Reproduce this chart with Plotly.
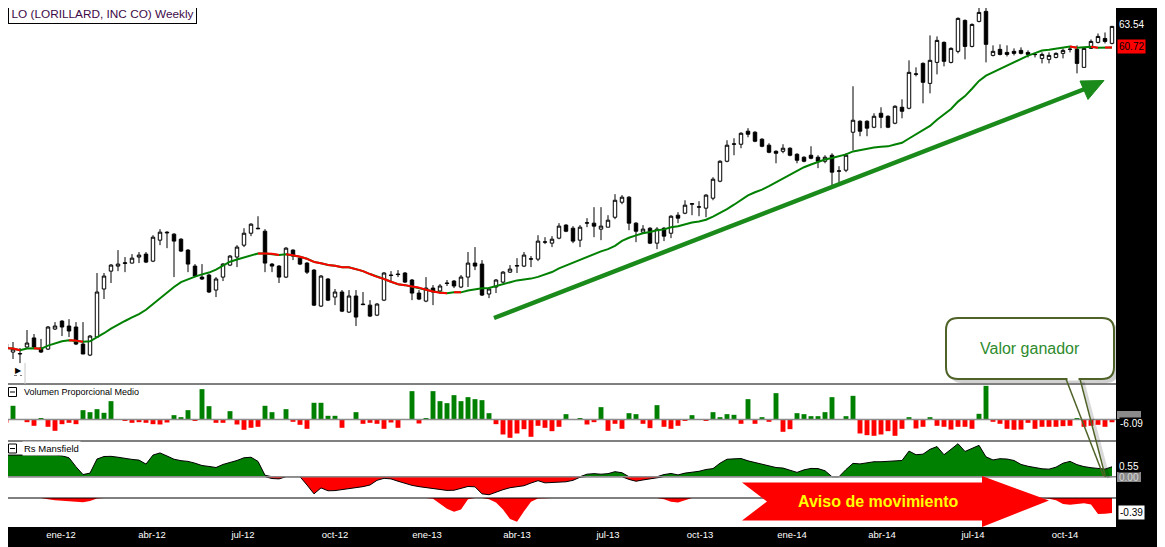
import numpy as np
import pandas as pd
import plotly.graph_objects as go
from plotly.subplots import make_subplots

# la página tiene 8 px de margen: la figura se dibuja desplazada
MARGEN = 8
ANCHO, ALTO = 1165 - MARGEN, 547 - MARGEN

# primera vela semanal (lunes)
primera_semana = "2011-11-07"

# velas semanales LO
apertura = [32.98, 32.44, 32.31, 32.78, 33.40, 32.71, 32.64, 34.02, 34.58, 34.23,
            34.16, 32.98, 32.24, 33.46, 36.95, 38.34, 38.74, 38.95, 38.98, 39.47,
            39.71, 39.14, 40.87, 41.55, 41.38, 40.95, 40.04, 38.74, 37.87, 38.03,
            36.87, 37.87, 38.82, 39.47, 40.45, 41.46, 41.89, 41.63, 38.90, 38.74,
            37.87, 40.04, 39.38, 38.98, 38.42, 35.67, 37.72, 36.34, 36.72, 35.23,
            36.42, 35.82, 35.74, 35.01, 36.11, 38.03, 38.11, 38.19, 37.64, 36.64,
            36.04, 37.02, 36.80, 37.41, 37.56, 37.10, 37.87, 38.98, 38.90, 36.57,
            37.10, 37.48, 38.26, 38.74, 38.74, 39.30, 39.30, 40.70, 40.62, 41.04,
            42.16, 41.89, 40.87, 42.33, 42.33, 41.81, 41.98, 42.85, 44.20, 44.66,
            42.33, 41.55, 41.89, 40.62, 41.89, 41.46, 43.03, 43.21, 44.02, 43.75,
            43.66, 44.57, 46.16, 48.10, 49.82, 49.82, 51.18, 51.07, 50.34, 49.72,
            49.10, 49.10, 49.41, 48.80, 48.50, 48.70, 48.50, 48.10, 48.70, 47.12,
            47.22, 51.07, 52.24, 52.24, 51.60, 53.11, 52.78, 52.03, 53.77, 53.66,
            57.55, 58.87, 56.49, 58.99, 61.48, 58.99, 60.35, 64.33, 60.97, 64.20,
            65.54, 59.85, 60.60, 60.22, 60.35, 60.47, 60.22, 59.97, 59.48, 59.36,
            59.60, 60.10, 60.60, 60.60, 58.39, 60.72, 61.48, 61.98, 61.35]
maximo = [33.12, 33.12, 32.71, 33.95, 33.67, 33.33, 34.23, 34.51, 34.65, 34.72,
          34.51, 34.51, 33.60, 38.19, 38.19, 38.90, 40.04, 39.47, 39.71, 39.88,
          39.88, 41.29, 41.81, 41.63, 41.46, 41.04, 40.12, 38.90, 38.90, 38.11,
          37.87, 38.98, 39.63, 40.45, 41.89, 42.33, 42.94, 41.81, 38.98, 38.82,
          40.29, 40.10, 39.47, 39.06, 38.50, 38.03, 37.79, 36.95, 36.87, 36.87,
          36.87, 36.72, 36.11, 35.89, 38.26, 38.34, 38.42, 38.26, 37.72, 36.87,
          37.87, 37.25, 37.33, 37.64, 37.64, 38.03, 39.88, 40.29, 39.22, 37.10,
          37.72, 38.34, 38.82, 39.38, 39.88, 39.55, 41.29, 41.12, 41.21, 42.33,
          42.24, 42.07, 42.16, 42.77, 43.75, 43.75, 43.03, 44.94, 44.85, 44.76,
          42.42, 42.16, 41.98, 41.98, 41.98, 43.03, 43.30, 44.38, 44.11, 44.29,
          44.94, 46.54, 48.20, 50.23, 50.44, 51.07, 51.50, 51.18, 50.44, 49.92,
          49.20, 49.82, 49.51, 48.90, 48.60, 49.61, 48.70, 48.70, 48.90, 47.61,
          48.90, 56.15, 52.35, 52.35, 53.11, 53.77, 52.89, 53.99, 54.66, 59.24,
          58.39, 58.99, 62.37, 62.24, 61.60, 60.85, 64.73, 64.46, 63.93, 66.62,
          66.62, 61.10, 61.23, 61.10, 60.72, 60.85, 60.47, 60.22, 60.22, 60.22,
          60.22, 60.72, 60.97, 61.10, 60.85, 61.85, 62.62, 62.75, 63.60]
minimo = [32.58, 31.98, 31.71, 32.71, 32.71, 32.38, 32.58, 33.95, 33.53, 33.46,
          32.91, 32.31, 32.17, 33.40, 36.19, 37.41, 38.34, 38.26, 38.95, 38.98,
          38.98, 39.06, 40.45, 40.20, 37.87, 39.88, 38.26, 37.87, 37.64, 36.64,
          36.34, 37.56, 38.74, 38.66, 40.29, 41.21, 41.81, 38.26, 38.26, 37.41,
          37.79, 39.22, 38.82, 38.11, 35.67, 35.60, 36.04, 35.74, 35.23, 35.16,
          34.23, 35.74, 34.87, 34.94, 36.04, 37.48, 37.87, 37.41, 36.11, 36.11,
          35.96, 35.74, 36.57, 37.18, 37.02, 37.02, 37.10, 38.42, 36.42, 36.26,
          36.64, 37.41, 38.19, 38.19, 38.66, 38.66, 39.14, 40.54, 40.29, 40.95,
          41.55, 40.62, 40.29, 41.98, 41.12, 40.87, 41.98, 42.68, 44.02, 41.72,
          40.70, 41.46, 40.54, 40.12, 40.79, 41.04, 42.33, 43.12, 43.03, 42.94,
          42.85, 44.38, 46.06, 48.00, 48.70, 49.41, 50.54, 50.03, 49.51, 48.90,
          47.90, 48.90, 48.60, 47.90, 48.00, 48.30, 47.42, 47.90, 45.69, 45.97,
          47.03, 49.20, 50.65, 50.65, 51.50, 51.50, 51.50, 51.92, 52.56, 53.55,
          57.31, 54.21, 55.34, 57.55, 58.51, 58.87, 60.10, 59.36, 60.85, 64.07,
          58.99, 59.72, 59.85, 59.72, 59.85, 59.97, 59.60, 59.60, 58.87, 58.87,
          59.48, 59.48, 60.22, 57.67, 58.39, 60.72, 61.35, 61.35, 61.23]
cierre = [32.71, 32.64, 32.34, 33.05, 32.78, 32.44, 34.16, 34.23, 34.16, 33.88,
          32.98, 32.31, 33.53, 36.72, 37.95, 38.82, 38.90, 39.00, 39.38, 39.63,
          39.06, 41.12, 41.55, 41.50, 40.79, 39.96, 38.90, 37.95, 37.72, 36.72,
          37.72, 38.90, 39.55, 40.29, 41.46, 42.24, 41.85, 38.98, 38.74, 37.87,
          40.20, 39.55, 38.90, 38.26, 35.74, 37.95, 36.11, 36.72, 35.30, 36.42,
          34.87, 35.78, 34.94, 35.82, 38.19, 38.00, 38.07, 37.48, 36.64, 36.19,
          37.02, 36.72, 37.18, 37.38, 37.18, 37.87, 38.98, 38.74, 36.49, 36.95,
          37.64, 38.26, 38.50, 38.78, 39.63, 39.32, 40.79, 40.72, 40.95, 42.07,
          41.63, 40.79, 41.98, 42.36, 42.07, 42.07, 42.59, 44.38, 44.66, 42.33,
          41.63, 41.81, 40.62, 41.81, 41.21, 42.94, 42.77, 43.93, 44.06, 43.78,
          44.85, 46.35, 48.10, 49.72, 49.85, 50.96, 50.86, 50.13, 49.61, 49.00,
          48.90, 49.41, 48.70, 48.20, 48.10, 48.40, 48.10, 48.50, 47.03, 47.15,
          48.70, 52.35, 51.18, 51.50, 52.78, 52.67, 51.60, 53.88, 53.33, 57.79,
          57.60, 56.61, 59.24, 61.73, 59.12, 60.72, 64.60, 60.97, 63.80, 65.40,
          61.23, 60.35, 59.97, 59.97, 60.10, 60.10, 59.97, 59.95, 59.97, 59.85,
          60.10, 60.47, 60.62, 58.87, 60.72, 61.60, 62.24, 61.60, 63.54]

# Volumen Proporcional Medio (%)
volumen = [-7.3, 30.1, 0.8, -5.9, -13.9, 2.9, -16.1, -24.9, -10.3, -7.3,
           -10.3, 20.5, 16.1, 22.7, 14.7, 40.3, -0.5, -2.9, -7.3, -5.9,
           -7.3, -10.3, -11.0, -6.6, 9.5, 5.1, 20.5, -2.2, 66.7, 29.3,
           -7.3, -7.3, 18.3, -11.0, -22.7, -18.3, -16.1, 30.1, 16.1, 0.4,
           22.7, -5.1, -11.7, -20.5, 36.7, 36.7, 8.1, 8.1, -18.3, 0.3,
           16.1, -9.5, -7.3, -9.5, -20.5, -6.6, -18.3, 0.4, 62.3, -8.8,
           2.9, 62.3, 40.3, 35.9, 53.5, 40.3, 49.1, 44.7, 42.5, 13.9,
           -10.3, -33.0, -40.3, -30.8, -21.3, -38.1, -13.9, -18.3, -25.7, -16.1,
           11.7, -0.4, 2.9, -11.0, -5.9, 27.1, -24.9, -9.5, -20.5, 13.9,
           11.7, -9.5, -19.1, 31.5, -16.1, -20.5, -13.9, -2.9, 9.5, 0.3,
           -2.2, 16.1, 5.1, 11.7, 10.3, -9.5, 44.7, -9.5, 5.1, -5.1,
           57.9, -27.1, -21.3, 13.9, 11.7, 7.3, 7.3, 16.1, 49.1, 0.4,
           7.3, 52.0, -30.8, -34.5, -35.9, -33.0, -25.7, -35.9, -20.5, 5.1,
           -19.8, -16.1, 5.1, -13.9, -16.1, -22.0, -16.1, -16.1, -20.5, 12.5,
           74.0, -5.1, -9.5, -20.5, -22.7, -22.0, -7.3, -20.5, -16.1, -16.1,
           -16.1, -14.7, -13.9, 2.9, -16.1, -13.9, -11.7, -16.1, -6.09]

# Rs Mansfield
rs_mansfield = [1.20, 1.21, 1.22, 1.20, 1.19, 1.20, 1.20, 1.19, 1.16, 1.05,
                0.55, 0.12, 0.20, 0.98, 1.12, 1.13, 1.08, 1.00, 0.96, 0.92,
                0.70, 1.20, 1.32, 1.15, 0.97, 0.89, 0.85, 0.75, 0.62, 0.57,
                0.51, 0.68, 0.78, 0.90, 1.05, 1.08, 0.85, 0.08, -0.10, -0.12,
                0.02, 0.00, 0.00, -0.46, -0.95, -0.62, -0.78, -0.77, -0.72, -0.66,
                -0.62, -0.55, -0.46, -0.20, -0.09, -0.12, -0.25, -0.37, -0.48, -0.55,
                -0.61, -0.66, -0.70, -0.76, -0.75, -0.64, -0.54, -0.56, -0.95, -1.00,
                -0.85, -0.72, -0.61, -0.57, -0.50, -0.35, -0.22, -0.34, -0.32, -0.28,
                -0.28, -0.20, -0.03, 0.14, 0.17, 0.14, 0.17, 0.28, 0.22, -0.15,
                -0.25, -0.18, -0.12, -0.03, 0.12, 0.18, 0.10, 0.20, 0.25, 0.30,
                0.40, 0.45, 0.75, 0.97, 0.99, 1.01, 0.88, 0.78, 0.70, 0.58,
                0.51, 0.48, 0.35, 0.24, 0.38, 0.46, 0.45, 0.33, 0.00, -0.03,
                0.40, 0.74, 0.71, 0.78, 0.83, 0.83, 0.86, 0.87, 0.90, 1.42,
                1.22, 1.25, 1.52, 1.67, 1.22, 1.52, 1.83, 1.40, 1.55, 1.74,
                1.10, 0.93, 1.00, 0.98, 0.90, 0.68, 0.58, 0.50, 0.44, 0.42,
                0.53, 0.75, 0.85, 0.67, 0.56, 0.50, 0.47, 0.42, 0.55]

# panel inferior (solo la parte negativa)
inferior = [0, 0, 0, 0, 0, 0, -0.03, -0.06, -0.07, -0.08,
            -0.10, -0.11, -0.08, -0.01, 0, 0, 0, 0, 0, 0,
            0, 0, 0, 0, 0, 0, 0, 0, 0, 0,
            0, 0, 0, 0, 0, 0, 0, 0, 0, 0,
            0, 0, 0, 0, 0, 0, 0, 0, 0, 0,
            0, 0, 0, 0, 0, 0, 0, 0, 0, 0,
            0, -0.02, -0.14, -0.28, -0.36, -0.30, -0.03, 0, 0, -0.03,
            -0.12, -0.30, -0.55, -0.62, -0.35, -0.10, -0.01, 0, 0, 0,
            0, 0, 0, 0, 0, 0, 0, 0, 0, 0,
            0, 0, 0, 0, -0.03, -0.10, -0.12, -0.06, 0, 0,
            0, 0, 0, 0, 0, 0, 0, 0, 0, 0,
            0, 0, 0, 0, 0, 0, 0, 0, 0, 0,
            0, 0, 0, 0, 0, 0, 0, 0, 0, 0,
            0, 0, 0, 0, 0, 0, 0, 0, 0, 0,
            0, 0, 0, 0, 0, 0, 0, 0, 0, -0.02,
            -0.06, -0.16, -0.18, -0.16, -0.14, -0.17, -0.42, -0.41, -0.39]

fechas_ticks = ["2012-01-01", "2012-04-01", "2012-07-01", "2012-10-01",
                "2013-01-01", "2013-04-01", "2013-07-01", "2013-10-01",
                "2014-01-01", "2014-04-01", "2014-07-01", "2014-10-01"]
etiquetas_ticks = ["ene-12", "abr-12", "jul-12", "oct-12",
                   "ene-13", "abr-13", "jul-13", "oct-13",
                   "ene-14", "abr-14", "jul-14", "oct-14"]

fechas = pd.date_range(primera_semana, periods=len(cierre), freq="7D")

# media de 20 semanas, en rojo los tramos en que baja
media = pd.Series(cierre).rolling(20, min_periods=1).mean()
x_rojo, y_rojo = [], []
for i in range(1, len(media)):
    if media[i] < media[i - 1]:
        x_rojo += [fechas[i - 1], fechas[i], None]
        y_rojo += [media[i - 1], media[i], None]

VERDE = "#008000"
ROJO = "#ff0000"
FUENTE = "Liberation Sans"


# coordenadas de la captura (px) -> coordenadas paper
def px(x):
    return (x - MARGEN) / ANCHO


def py(y):
    return 1 - (y - MARGEN) / ALTO


def ruta(puntos):
    partes = []
    for p in puntos:
        if p[0] == "Z":
            partes.append("Z")
            continue
        coords = [f"{px(p[k]):.5f},{py(p[k + 1]):.5f}" for k in range(1, len(p), 2)]
        partes.append(p[0] + " " + " ".join(coords))
    return " ".join(partes)


def rect_redondo(x0, y0, x1, y1, r):
    return ruta([("M", x0 + r, y0), ("L", x1 - r, y0), ("Q", x1, y0, x1, y0 + r),
                 ("L", x1, y1 - r), ("Q", x1, y1, x1 - r, y1), ("L", x0 + r, y1),
                 ("Q", x0, y1, x0, y1 - r), ("L", x0, y0 + r), ("Q", x0, y0, x0 + r, y0),
                 ("Z",)])


fig = make_subplots(rows=4, cols=1, shared_xaxes=True, vertical_spacing=0)

fig.add_trace(go.Candlestick(
    x=fechas, open=apertura, high=maximo, low=minimo, close=cierre,
    increasing=dict(fillcolor="white", line=dict(color="black", width=1)),
    decreasing=dict(fillcolor="black", line=dict(color="black", width=1)),
    whiskerwidth=0, hoverinfo="skip",
), row=1, col=1)
fig.add_trace(go.Scatter(x=fechas, y=media, mode="lines",
                         line=dict(color=VERDE, width=2), hoverinfo="skip"), row=1, col=1)
fig.add_trace(go.Scatter(x=x_rojo, y=y_rojo, mode="lines",
                         line=dict(color=ROJO, width=2), hoverinfo="skip"), row=1, col=1)

fig.add_trace(go.Bar(x=fechas, y=volumen,
                     marker=dict(color=[VERDE if v >= 0 else ROJO for v in volumen], line_width=0),
                     hoverinfo="skip"), row=2, col=1)

rs = np.array(rs_mansfield)
fig.add_trace(go.Scatter(x=fechas, y=np.clip(rs, 0, None), mode="lines", fill="tozeroy",
                         fillcolor=VERDE, line=dict(color="black", width=1),
                         hoverinfo="skip"), row=3, col=1)
fig.add_trace(go.Scatter(x=fechas, y=np.clip(rs, None, 0), mode="lines", fill="tozeroy",
                         fillcolor=ROJO, line=dict(color="black", width=1),
                         hoverinfo="skip"), row=3, col=1)

fig.add_trace(go.Scatter(x=fechas, y=inferior, mode="lines", fill="tozeroy",
                         fillcolor=ROJO, line=dict(color=ROJO, width=0),
                         hoverinfo="skip"), row=4, col=1)

dominio_x = [0, px(1116)]
fig.update_xaxes(domain=dominio_x, range=["2011-11-09", "2014-11-21"], showgrid=False,
                 zeroline=False, showline=False, showticklabels=False, ticks="",
                 rangeslider_visible=False)
fig.update_xaxes(row=4, col=1, showticklabels=True, tickvals=fechas_ticks,
                 ticktext=etiquetas_ticks, tickfont=dict(family=FUENTE, size=9.5, color="white"))
fig.update_yaxes(showgrid=False, zeroline=False, showticklabels=False, ticks="", showline=False)
fig.update_yaxes(row=1, col=1, type="log", range=[np.log10(30.37), np.log10(66.0)],
                 domain=[py(384), 1])
fig.update_yaxes(row=2, col=1, range=[-47.3, 78], domain=[py(441), py(384)])
fig.update_yaxes(row=3, col=1, range=[-1.18, 1.98], domain=[py(498), py(441)])
fig.update_yaxes(row=4, col=1, range=[-0.76, 0], domain=[py(527), py(498)])

formas = []
# bandas negras (eje de precios y eje de fechas)
formas.append(dict(type="rect", xref="paper", yref="paper", x0=px(1116), x1=1, y0=0, y1=1,
                   fillcolor="black", line_width=0, layer="below"))
formas.append(dict(type="rect", xref="paper", yref="paper", x0=0, x1=1, y0=0, y1=py(527),
                   fillcolor="black", line_width=0, layer="below"))
# separadores de paneles
for yy in [384, 441, 498]:
    formas.append(dict(type="line", xref="paper", yref="paper", x0=0, x1=px(1116),
                       y0=py(yy), y1=py(yy), line=dict(color="black", width=1)))
# líneas de cero
for eje in ["y2", "y3"]:
    formas.append(dict(type="line", xref="paper", yref=eje, x0=0, x1=px(1116), y0=0, y1=0,
                       line=dict(color="#8c8c8c", width=1.5)))
# iconos de los paneles
for yy in [392, 448.5]:
    formas.append(dict(type="rect", xref="paper", yref="paper", x0=px(8.5), x1=px(16.5),
                       y0=py(yy + 4.5), y1=py(yy - 4.5), line=dict(color="black", width=1),
                       fillcolor="white"))
    formas.append(dict(type="line", xref="paper", yref="paper", x0=px(10), x1=px(15),
                       y0=py(yy), y1=py(yy), line=dict(color="black", width=1)))
formas.append(dict(type="line", xref="paper", yref="paper", x0=px(25), x1=px(25),
                   y0=py(363), y1=py(384), line=dict(color="#c8c8c8", width=1)))
formas.append(dict(type="line", xref="paper", yref="paper", x0=px(14), x1=px(22),
                   y0=py(375.5), y1=py(375.5), line=dict(color="#777777", width=1, dash="dot")))

# flecha verde de tendencia
formas.append(dict(type="line", xref="paper", yref="paper", x0=px(494), y0=py(318),
                   x1=px(1086), y1=py(88.5), line=dict(color="#1a8a1a", width=4.5)))
formas.append(dict(type="path", xref="paper", yref="paper",
                   path=ruta([("M", 1104, 80.5), ("L", 1080, 81), ("L", 1088, 99.5), ("Z",)]),
                   fillcolor="#1a8a1a", line=dict(color="#1a8a1a", width=1)))

# flecha roja "Aviso de movimiento"
formas.append(dict(type="path", xref="paper", yref="paper",
                   path=ruta([("M", 742, 482.5), ("L", 982, 482.5), ("L", 982, 476),
                              ("L", 1049, 500.5), ("L", 982, 527), ("L", 982, 520.5),
                              ("L", 742, 520.5), ("L", 767, 501.5), ("Z",)]),
                   fillcolor=ROJO, line_width=0, layer="above"))

# globo "Valor ganador"
formas.append(dict(type="path", xref="paper", yref="paper",
                   path=rect_redondo(950, 322, 1118, 383, 12),
                   fillcolor="rgba(0,0,0,0.18)", line_width=0))
formas.append(dict(type="line", xref="paper", yref="paper", x0=px(1083), y0=py(382),
                   x1=px(1108.5), y1=py(478), line=dict(color="rgba(0,0,0,0.15)", width=3)))
formas.append(dict(type="path", xref="paper", yref="paper",
                   path=rect_redondo(946, 318, 1114, 379, 12),
                   fillcolor="white", line=dict(color="#4f6228", width=2)))
formas.append(dict(type="line", xref="paper", yref="paper", x0=px(1067.5), y0=py(379),
                   x1=px(1078.5), y1=py(379), line=dict(color="white", width=3)))
formas.append(dict(type="line", xref="paper", yref="paper", x0=px(1066), y0=py(379),
                   x1=px(1103.5), y1=py(476), line=dict(color="#4f6228", width=1.5)))
formas.append(dict(type="line", xref="paper", yref="paper", x0=px(1080), y0=py(379),
                   x1=px(1105.5), y1=py(477), line=dict(color="#4f6228", width=1.5)))

# cajas grises de la escala derecha
formas.append(dict(type="rect", xref="paper", yref="paper", x0=px(1117), x1=px(1141),
                   y0=py(419), y1=py(411), fillcolor="#8a8a8a", line_width=0))
formas.append(dict(type="rect", xref="paper", yref="paper", x0=px(1117), x1=px(1141),
                   y0=py(482), y1=py(472), fillcolor="#8a8a8a", line_width=0))

notas = []


def nota(texto, x, y, **kw):
    base = dict(text=texto, x=px(x), y=py(y), xref="paper", yref="paper",
                showarrow=False, xanchor="center", yanchor="middle")
    base.update(kw)
    notas.append(base)


nota("LO (LORILLARD, INC CO) Weekly", 8, 13.5, xanchor="left",
     font=dict(family=FUENTE, size=11.8, color="#3d0a47"),
     bgcolor="white", bordercolor="black", borderwidth=1, borderpad=2.5)
nota("Volumen Proporcional Medio", 22, 392, xanchor="left",
     font=dict(family=FUENTE, size=9, color="black"))
nota("Rs Mansfield", 22, 448.5, xanchor="left", bgcolor="white",
     font=dict(family=FUENTE, size=9.5, color="black"))
nota("▶", 18, 369, font=dict(size=8, color="black"))

nota("63.54", 1131, 25, font=dict(family=FUENTE, size=10, color="white"))
nota("60.72", 1131.5, 46.5, bgcolor=ROJO, borderpad=1,
     font=dict(family=FUENTE, size=10, color="black"))
nota("0.00", 1129, 477, font=dict(family=FUENTE, size=10, color="#d8d8d8"))
nota("-6.09", 1131, 423, bgcolor="black", borderpad=0,
     font=dict(family=FUENTE, size=10, color="white"))
nota("0.55", 1129, 466, bgcolor="black", borderpad=0,
     font=dict(family=FUENTE, size=10, color="white"))
nota("-0.39", 1131.5, 512, bgcolor="white", borderpad=1,
     font=dict(family=FUENTE, size=10, color="black"))

nota("<b>Aviso de movimiento</b>", 878, 501,
     font=dict(family=FUENTE, size=16, color="#ffff00"))
nota("Valor ganador", 1030, 348, font=dict(family=FUENTE, size=16, color="#2e8b2e"))

fig.update_layout(
    width=ANCHO, height=ALTO,
    margin=dict(l=0, r=0, t=0, b=0),
    paper_bgcolor="white", plot_bgcolor="white",
    showlegend=False, bargap=0.3,
    shapes=formas, annotations=notas,
)

fig.write_html("out.html")
